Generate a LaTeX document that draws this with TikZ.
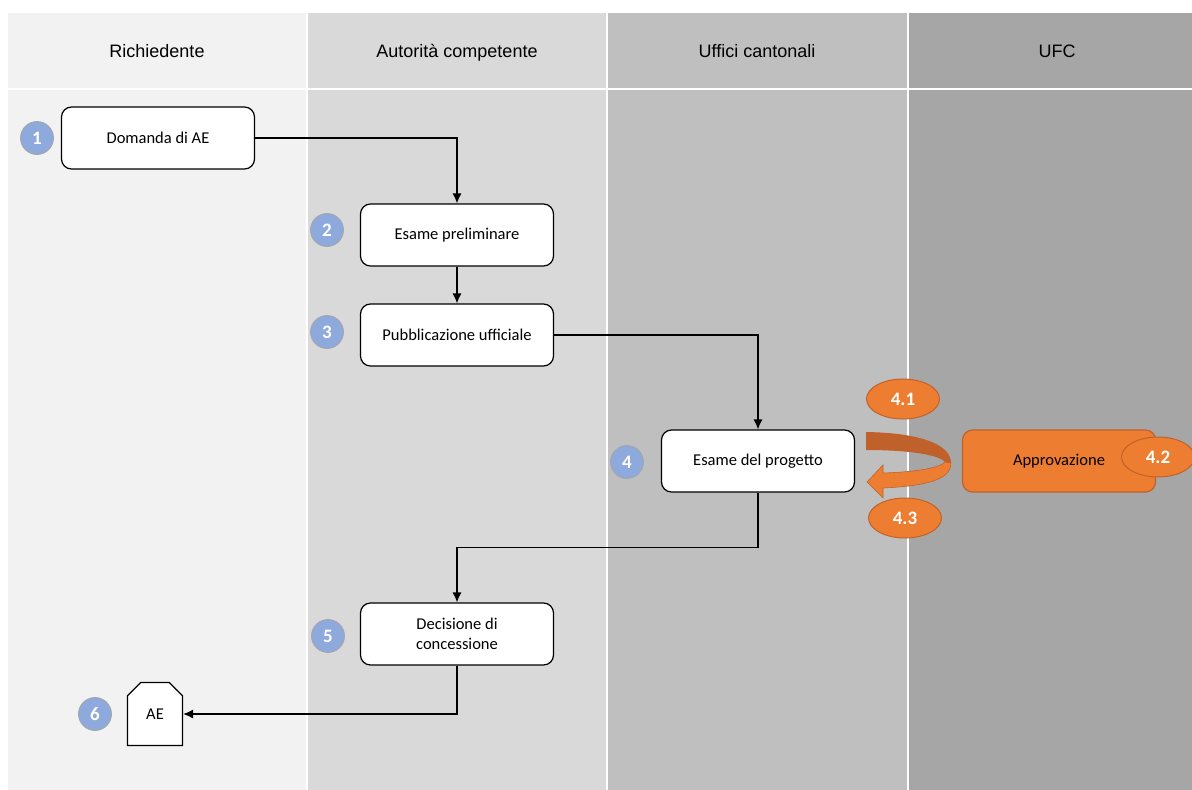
\documentclass[tikz,border=0pt]{standalone}
\usepackage{fontspec}
\setmainfont{Carlito}
\newfontfamily\arialfont{Liberation Sans}
\usetikzlibrary{shapes.geometric}
\usetikzlibrary{shapes.misc}
\usetikzlibrary{arrows.meta}
\definecolor{corsiaA}{HTML}{F2F2F2}
\definecolor{corsiaB}{HTML}{D9D9D9}
\definecolor{corsiaC}{HTML}{BFBFBF}
\definecolor{corsiaD}{HTML}{A6A6A6}
\definecolor{blu}{HTML}{8EA9DB}
\definecolor{arancio}{HTML}{ED7D31}
\definecolor{aranciobordo}{HTML}{C0622A}
\definecolor{aranciocupo}{HTML}{C0612B}
\begin{document}
\begin{tikzpicture}[x=1pt,y=-1pt]
\tikzstyle{lien}=[-{Latex[length=10pt,width=9pt]},line width=1.2pt]
\tikzset{passo/.style={draw,line width=1.2pt,fill=white,rounded corners=10pt,
minimum width=193pt,minimum height=62pt,align=center,font=\fontsize{16.5}{20}\selectfont},
numero/.style={circle,draw=corsiaD,line width=0.8pt,fill=blu,minimum size=33pt,inner sep=0pt,
text=white,font=\fontsize{19}{22}\selectfont\bfseries},
ovale/.style={ellipse,draw=aranciobordo,line width=1pt,fill=arancio,minimum width=73pt,
minimum height=40pt,inner sep=0pt,text=white,font=\fontsize{19}{22}\selectfont\bfseries},
titolo/.style={anchor=base,font=\arialfont\fontsize{18}{22}\selectfont},
corsia/.style={fill=#1,draw=none}}
\useasboundingbox (0,0) rectangle (1192,790);
\fill[white] (0,0) rectangle (1192,790);
% corsie
\fill[corsia=corsiaA] (8,13) rectangle (306,88);
\fill[corsia=corsiaA] (8,90) rectangle (306,790);
\fill[corsia=corsiaB] (308,13) rectangle (606,88);
\fill[corsia=corsiaB] (308,90) rectangle (606,790);
\fill[corsia=corsiaC] (608,13) rectangle (907,88);
\fill[corsia=corsiaC] (608,90) rectangle (907,790);
\fill[corsia=corsiaD] (909,13) rectangle (1192,88);
\fill[corsia=corsiaD] (909,90) rectangle (1192,790);
\node [titolo] (t1) at (157,57) {Richiedente};
\node [titolo] (t2) at (457,57) {Autorità competente};
\node [titolo] (t3) at (757,57) {Uffici cantonali};
\node [titolo] (t4) at (1057,57) {UFC};
% passi
\node [passo] (dom) at (158,138) {Domanda di AE};
\node [passo] (prel) at (457,235) {Esame preliminare};
\node [passo] (pubb) at (457,335) {Pubblicazione ufficiale};
\node [passo] (prog) at (758,461) {Esame del progetto};
\node [passo] (dec) at (457,634) {Decisione di\\concessione};
\node [draw,line width=1.2pt,fill=white,chamfered rectangle,
chamfered rectangle corners={north west,north east},
chamfered rectangle xsep=8pt,chamfered rectangle ysep=8pt,
minimum width=55pt,minimum height=63pt,inner sep=0pt,
font=\fontsize{16.5}{20}\selectfont] (ae) at (155,714) {AE};
\node [passo,draw=aranciobordo,fill=arancio] (app) at (1059,461) {Approvazione};
% numeri
\node [numero] (n1) at (37,138) {1};
\node [numero] (n2) at (327,230) {2};
\node [numero] (n3) at (327,332) {3};
\node [numero] (n4) at (627,462) {4};
\node [numero] (n5) at (328,636) {5};
\node [numero] (n6) at (95,714) {6};
% freccia circolare
\fill[aranciocupo] (866,432) .. controls (925,433) and (951,446) .. (951,463)
-- (945,462) .. controls (938,454) and (905,450) .. (866,450) -- cycle;
\filldraw[fill=arancio,draw=aranciobordo,line width=0.6pt] (951,463) .. controls (951,480) and (925,486) .. (883,488)
-- (883,498) -- (867,482) -- (883,465) -- (883,473)
.. controls (915,472) and (940,468) .. (945,462) -- cycle;
\node [ovale] (o41) at (903,399) {4.1};
\node [ovale] (o42) at (1158,457) {4.2};
\node [ovale] (o43) at (905,518) {4.3};
% collegamenti
\draw[lien] (dom.east) -| (prel.north);
\draw[lien] (prel) -- (pubb);
\draw[lien] (pubb.east) -| (prog.north);
\draw[lien] (prog.south) -- ++(0,55) -| (dec.north);
\draw[lien] (dec.south) |- (ae.east);
\end{tikzpicture}
\end{document}
